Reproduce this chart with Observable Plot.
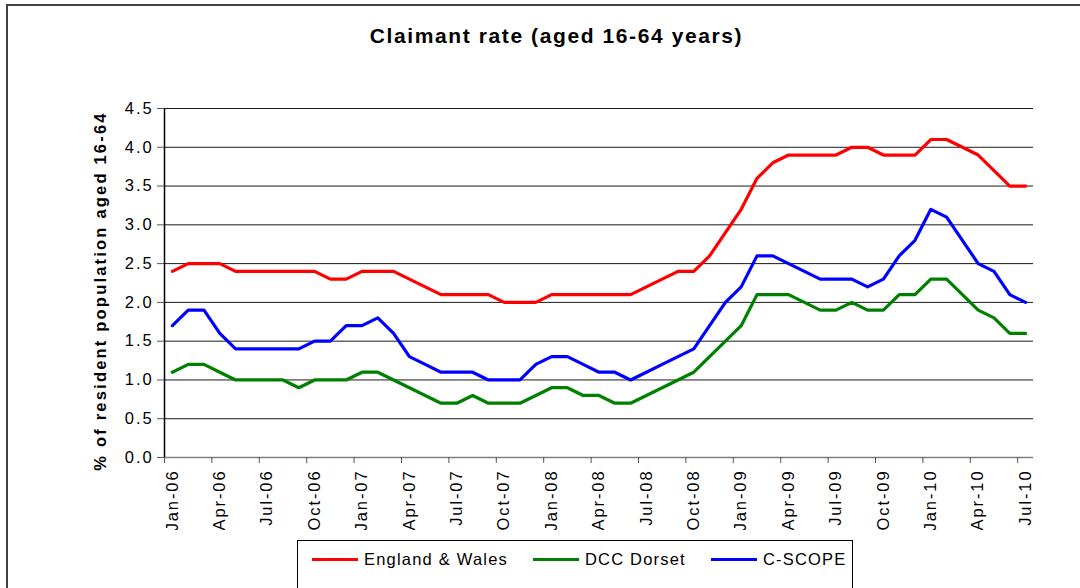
<!DOCTYPE html>
<html>
<head>
<meta charset="utf-8">
<script src="https://cdn.jsdelivr.net/npm/d3@7"></script>
<script src="https://cdn.jsdelivr.net/npm/@observablehq/plot@0.6"></script>
<style>
  html, body { margin: 0; padding: 0; background: #fff; }
  body { font-family: "Liberation Sans", Arial, sans-serif; }
  #wrap { position: relative; width: 1080px; height: 588px; overflow: hidden; background: #fff; }
  #frame { position: absolute; left: 6px; top: 4px; width: 1200px; height: 700px;
           border-left: 2px solid #404040; border-top: 2px solid #404040; }
  #title { position: absolute; left: 0; width: 1113px; top: 25px; text-align: center;
           font-weight: bold; font-size: 21px; line-height: 1; letter-spacing: 1.6px; color: #000; }
  #chart { position: absolute; left: 0; top: 0; }
  #chart svg .tl text { letter-spacing: 1.9px; font-size: 16.5px !important; }
  #chart svg .yt text { letter-spacing: 2.2px; }
  #legend { position: absolute; left: 297px; top: 540px; width: 556px; height: 80px;
            border: 1px solid #000; box-sizing: border-box; }
  #legend .row { position: absolute; left: 14px; top: 8px; display: flex; align-items: center;
                 font-size: 16.5px; letter-spacing: 1.2px; line-height: 20px; white-space: nowrap; }
  #legend .sw { display: inline-block; width: 46px; height: 3px; margin-right: 6px; }
  #legend .item { display: flex; align-items: center; margin-right: 25px; }
</style>
</head>
<body>
<div id="wrap">
  <div id="frame"></div>
  <div id="chart"></div>
  <div id="title">Claimant rate (aged 16-64 years)</div>
  <div id="legend"><div class="row" id="legrow"></div></div>
</div>
<script>
// ---- data ----
const months = [
  "Jan-06","Feb-06","Mar-06","Apr-06","May-06","Jun-06","Jul-06","Aug-06","Sep-06","Oct-06","Nov-06","Dec-06",
  "Jan-07","Feb-07","Mar-07","Apr-07","May-07","Jun-07","Jul-07","Aug-07","Sep-07","Oct-07","Nov-07","Dec-07",
  "Jan-08","Feb-08","Mar-08","Apr-08","May-08","Jun-08","Jul-08","Aug-08","Sep-08","Oct-08","Nov-08","Dec-08",
  "Jan-09","Feb-09","Mar-09","Apr-09","May-09","Jun-09","Jul-09","Aug-09","Sep-09","Oct-09","Nov-09","Dec-09",
  "Jan-10","Feb-10","Mar-10","Apr-10","May-10","Jun-10","Jul-10"
];
const englandWales = [
  2.4,2.5,2.5,2.5,2.4,2.4,2.4,2.4,2.4,2.4,2.3,2.3,
  2.4,2.4,2.4,2.3,2.2,2.1,2.1,2.1,2.1,2.0,2.0,2.0,
  2.1,2.1,2.1,2.1,2.1,2.1,2.2,2.3,2.4,2.4,2.6,2.9,
  3.2,3.6,3.8,3.9,3.9,3.9,3.9,4.0,4.0,3.9,3.9,3.9,
  4.1,4.1,4.0,3.9,3.7,3.5,3.5
];
const dccDorset = [
  1.1,1.2,1.2,1.1,1.0,1.0,1.0,1.0,0.9,1.0,1.0,1.0,
  1.1,1.1,1.0,0.9,0.8,0.7,0.7,0.8,0.7,0.7,0.7,0.8,
  0.9,0.9,0.8,0.8,0.7,0.7,0.8,0.9,1.0,1.1,1.3,1.5,
  1.7,2.1,2.1,2.1,2.0,1.9,1.9,2.0,1.9,1.9,2.1,2.1,
  2.3,2.3,2.1,1.9,1.8,1.6,1.6
];
const cScope = [
  1.7,1.9,1.9,1.6,1.4,1.4,1.4,1.4,1.4,1.5,1.5,1.7,
  1.7,1.8,1.6,1.3,1.2,1.1,1.1,1.1,1.0,1.0,1.0,1.2,
  1.3,1.3,1.2,1.1,1.1,1.0,1.1,1.2,1.3,1.4,1.7,2.0,
  2.2,2.6,2.6,2.5,2.4,2.3,2.3,2.3,2.2,2.3,2.6,2.8,
  3.2,3.1,2.8,2.5,2.4,2.1,2.0
];
const seriesNames = ["England & Wales", "DCC Dorset", "C-SCOPE"];
const seriesColors = ["#ff0000", "#008000", "#0000ff"];
const yTicks = [0, 0.5, 1.0, 1.5, 2.0, 2.5, 3.0, 3.5, 4.0, 4.5];
const labelEvery = 3;
const yTitle = "% of resident population aged 16-64";

// ---- build table ----
const seriesValues = [englandWales, dccDorset, cScope];
const rows = [];
seriesValues.forEach((vals, s) => {
  vals.forEach((v, i) => rows.push({ i, month: months[i], value: v, series: seriesNames[s] }));
});
const labelIdx = months.map((m, i) => i).filter(i => i % labelEvery === 0);
const boundaryIdx = labelIdx.map(i => i - 0.5);
const xDomain = [-0.5, months.length - 0.5];

const chart = Plot.plot({
  width: 1080,
  height: 530,
  marginTop: 108,
  marginLeft: 164,
  marginRight: 47,
  marginBottom: 73,
  style: { fontFamily: "'Liberation Sans', Arial, sans-serif", background: "transparent", color: "#000" },
  x: { type: "linear", domain: xDomain },
  y: { domain: [0, 4.5] },
  color: { domain: seriesNames, range: seriesColors },
  marks: [
    Plot.gridY(yTicks, { stroke: "#1a1a1a", strokeOpacity: 1, strokeWidth: 1 }),
    Plot.ruleY([0], { stroke: "#808080", strokeWidth: 1.5 }),
    Plot.ruleX([xDomain[0]], { stroke: "#000", strokeWidth: 1.5 }),
    Plot.axisY(yTicks, {
      tickSize: 7, tickPadding: 4, fontSize: 16.5, tickFormat: d3.format(".1f"),
      stroke: "#555", label: null, className: "tl"
    }),
    Plot.axisX(boundaryIdx, { tickSize: 6, tickFormat: () => "", stroke: "#555", label: null }),
    Plot.axisX(labelIdx, {
      tickSize: 0, tickPadding: 12, tickRotate: -90, fontSize: 16.5,
      tickFormat: i => months[i], label: null, className: "tl"
    }),
    Plot.text([yTitle], {
      frameAnchor: "left", dx: -64, dy: 8, rotate: -90, textAnchor: "middle", fontWeight: "bold", fontSize: 16.5,
      className: "yt", fill: "#000"
    }),
    Plot.line(rows, { x: "i", y: "value", z: "series", stroke: "series", strokeWidth: 3.2, strokeLinejoin: "round" })
  ]
});
document.getElementById("chart").appendChild(chart);

// legend
const row = document.getElementById("legrow");
seriesNames.forEach((name, k) => {
  const item = document.createElement("div");
  item.className = "item";
  const sw = document.createElement("span");
  sw.className = "sw";
  sw.style.background = seriesColors[k];
  const t = document.createElement("span");
  t.textContent = name;
  item.appendChild(sw);
  item.appendChild(t);
  row.appendChild(item);
});
</script>
</body>
</html>
